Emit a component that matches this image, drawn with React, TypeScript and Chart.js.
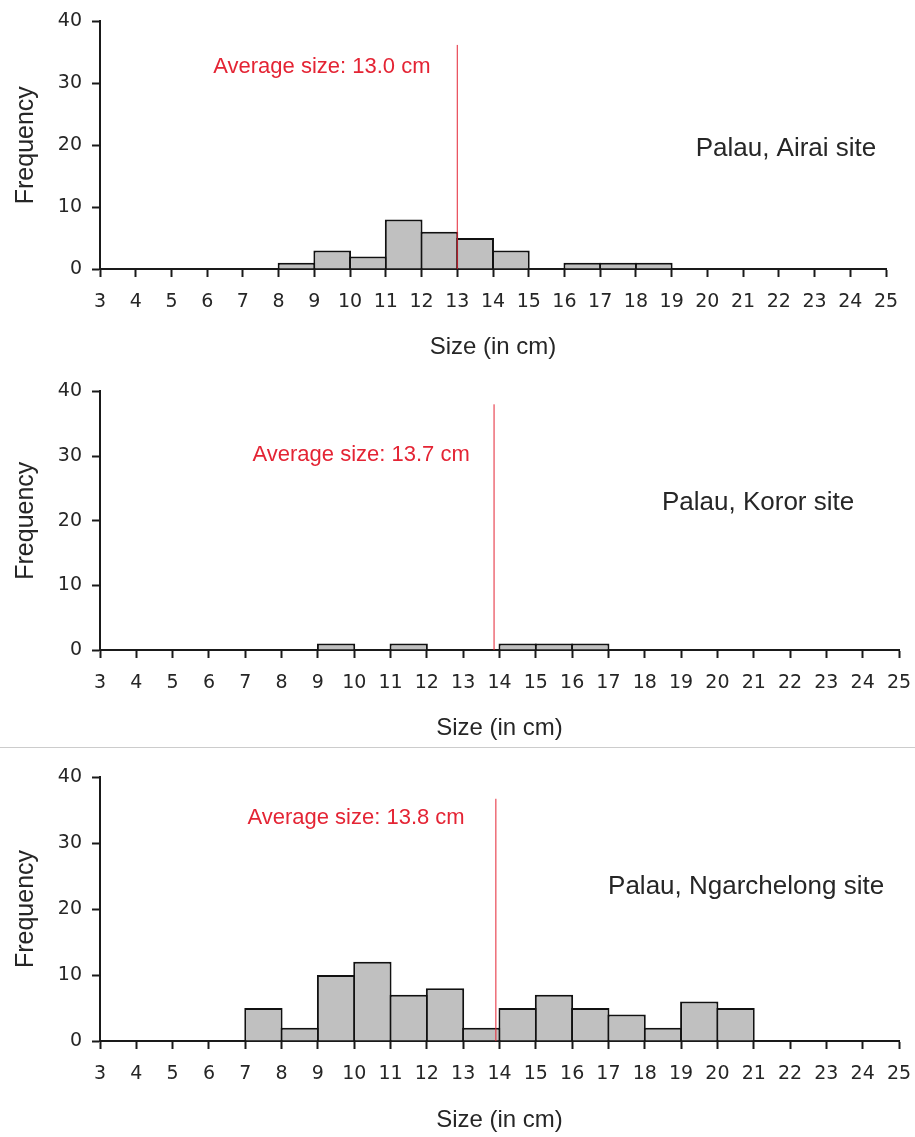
import React, { useEffect, useRef } from "react";
import { Chart, registerables } from "chart.js";

Chart.register(...registerables);

// ---------- data ----------
// histogram bins: [start, start+1) for start = 3 .. 24
const binStarts = [3, 4, 5, 6, 7, 8, 9, 10, 11, 12, 13, 14, 15, 16, 17, 18, 19, 20, 21, 22, 23, 24];
const airaiCounts = [0, 0, 0, 0, 0, 1, 3, 2, 8, 6, 5, 3, 0, 1, 1, 1, 0, 0, 0, 0, 0, 0];
const kororCounts = [0, 0, 0, 0, 0, 0, 1, 0, 1, 0, 0, 1, 1, 1, 0, 0, 0, 0, 0, 0, 0, 0];
const ngarchelongCounts = [0, 0, 0, 0, 5, 2, 10, 12, 7, 8, 2, 5, 7, 5, 4, 2, 6, 5, 0, 0, 0, 0];

const siteNames = ["Palau, Airai site", "Palau, Koror site", "Palau, Ngarchelong site"];
const averageLabels = ["Average size: 13.0 cm", "Average size: 13.7 cm", "Average size: 13.8 cm"];
const averageLineX = [13.0, 13.85, 13.9];
const averageLineTop = [36.2, 38.0, 36.7];

const xMin = 3;
const xMax = 25;
const yMax = 40;
const yStep = 10;

const allCounts = [airaiCounts, kororCounts, ngarchelongCounts];

// ---------- layout / style ----------
const layouts = [
  { top: 0, height: 370, pad: { top: 19, right: 29, left: 0, bottom: 0 }, xH: 101, titlePadB: 8.6,
    avgPos: [9.21, 32.6], sitePos: [22.2, 19.4] },
  { top: 370, height: 377, pad: { top: 17, right: 16, left: 0, bottom: 0 }, xH: 97, titlePadB: 4.6,
    avgPos: [10.19, 30.1], sitePos: [21.12, 22.8] },
  { top: 750, height: 387, pad: { top: 27, right: 16, left: 0, bottom: 0 }, xH: 96, titlePadB: 2.6,
    avgPos: [10.05, 33.8], sitePos: [20.79, 23.3] },
];

const RED = "rgb(228, 36, 52)";
const AXIS = "#1a1a1a";
const TEXT = "#262626";
const TICK_FONT = { family: "'DejaVu Sans', sans-serif", size: 19 };

const annotPlugin = {
  id: "annot",
  afterDraw(chart: any, _args: any, opts: any) {
    const { ctx } = chart;
    const xs = chart.scales.x;
    const ys = chart.scales.y;
    ctx.save();
    ctx.textAlign = "center";
    ctx.textBaseline = "middle";
    ctx.font = "22px 'Liberation Sans', Arial, sans-serif";
    ctx.fillStyle = RED;
    ctx.fillText(opts.avgText, xs.getPixelForValue(opts.avgPos[0]), ys.getPixelForValue(opts.avgPos[1]));
    ctx.font = "26px 'Liberation Sans', Arial, sans-serif";
    ctx.fillStyle = TEXT;
    ctx.fillText(opts.siteText, xs.getPixelForValue(opts.sitePos[0]), ys.getPixelForValue(opts.sitePos[1]));
    ctx.restore();
  },
};

function Panel({ index }: { index: number }) {
  const ref = useRef<HTMLCanvasElement | null>(null);
  const lay = layouts[index];

  useEffect(() => {
    if (!ref.current) return;
    const counts = allCounts[index];
    const barData = binStarts.map((s, i) => ({ x: s + 0.5, y: counts[i] > 0 ? counts[i] : null }));
    const lineData = [
      { x: averageLineX[index], y: 0 },
      { x: averageLineX[index], y: averageLineTop[index] },
    ];
    const chart = new Chart(ref.current, {
      type: "bar",
      data: {
        datasets: [
          {
            type: "line",
            data: lineData,
            borderColor: RED,
            borderWidth: 1,
            pointRadius: 0,
            fill: false,
            order: 0,
          } as any,
          {
            type: "bar",
            data: barData,
            backgroundColor: "#c0c0c0",
            borderColor: "#111111",
            borderWidth: 2,
            borderSkipped: "start",
            barPercentage: 1.055,
            categoryPercentage: 1,
            order: 1,
          } as any,
        ],
      },
      plugins: [annotPlugin],
      options: {
        animation: false,
        responsive: false,
        devicePixelRatio: 1,
        layout: { padding: lay.pad },
        plugins: {
          legend: { display: false },
          tooltip: { enabled: false },
          annot: {
            avgText: averageLabels[index],
            siteText: siteNames[index],
            avgPos: lay.avgPos,
            sitePos: lay.sitePos,
          },
        } as any,
        scales: {
          x: {
            type: "linear",
            min: xMin,
            max: xMax,
            offset: false,
            z: 1,
            ticks: { stepSize: 1, autoSkip: false, maxRotation: 0, font: TICK_FONT, color: TEXT, padding: 14 },
            grid: { offset: false, drawOnChartArea: false, drawTicks: true, tickLength: 8, tickColor: AXIS, tickWidth: 2 },
            border: { display: true, color: AXIS, width: 2 },
            title: {
              display: true,
              text: "Size (in cm)",
              color: TEXT,
              font: { family: "'Liberation Sans', Arial, sans-serif", size: 24 },
              padding: { top: 0, bottom: lay.titlePadB },
            },
            afterFit: (s: any) => {
              s.height = lay.xH;
              s.paddingLeft = 0;
              s.paddingRight = 0;
            },
          } as any,
          y: {
            type: "linear",
            min: 0,
            max: yMax,
            ticks: { stepSize: yStep, font: TICK_FONT, color: TEXT, padding: 10 },
            grid: { drawOnChartArea: false, drawTicks: true, tickLength: 8, tickColor: AXIS, tickWidth: 2 },
            border: { display: true, color: AXIS, width: 2 },
            title: {
              display: true,
              text: "Frequency",
              color: TEXT,
              font: { family: "'Liberation Sans', Arial, sans-serif", size: 25 },
              padding: { top: 11, bottom: 0 },
            },
            afterFit: (s: any) => {
              s.width = 100;
            },
          } as any,
        },
      } as any,
    });
    return () => chart.destroy();
  }, [index]);

  return (
    <div style={{ position: "absolute", left: 0, top: lay.top, width: 915, height: lay.height }}>
      <canvas ref={ref} width={915} height={lay.height} style={{ display: "block" }} />
    </div>
  );
}

export default function App() {
  return (
    <div style={{ position: "absolute", left: 0, top: 0, width: 915, height: 1137, background: "#ffffff" }}>
      <Panel index={0} />
      <Panel index={1} />
      <div style={{ position: "absolute", left: 0, top: 747, width: 915, height: 1, background: "#cccccc" }} />
      <Panel index={2} />
    </div>
  );
}
